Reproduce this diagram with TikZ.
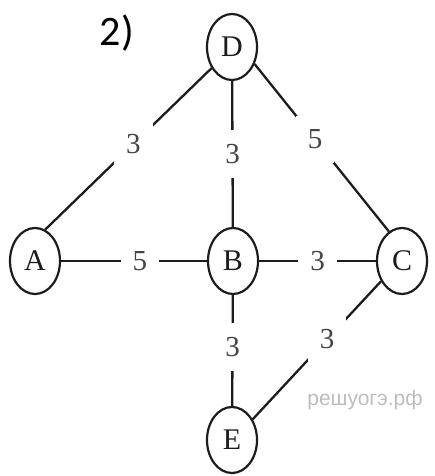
\documentclass[tikz,border=0pt]{standalone}
\usepackage{fontspec}
\setmainfont{Liberation Serif}
\newfontfamily\numfont{Carlito}
\newfontfamily\wmfont{Liberation Sans}
\usetikzlibrary{shapes.geometric}
\definecolor{inkc}{HTML}{1C1C1C}
\definecolor{numc}{HTML}{444444}
\definecolor{wmc}{HTML}{BDBDBD}
\tikzset{
  vert/.style={ellipse, draw=inkc, line width=2.2pt, minimum width=50pt, minimum height=66pt, inner sep=0pt, font=\fontsize{30}{30}\selectfont, text=inkc},
  edgeline/.style={draw=inkc, line width=2.3pt},
  lbl/.style={fill=white, inner xsep=12pt, inner ysep=14pt, text=numc, font=\fontsize{29}{29}\selectfont}
}
\begin{document}
\begin{tikzpicture}[x=1pt,y=-1pt]
\useasboundingbox (0,0) rectangle (434,476);
\node[vert] (D) at (232,47) {D};
\node[vert] (A) at (35,261) {A};
\node[vert] (B) at (233,261) {B};
\node[vert] (C) at (402,261) {C};
\node[vert] (E) at (232,440) {E};
\draw[edgeline] (A.72) -- node[lbl,pos=0.53]{3} (D.226);
\draw[edgeline] (D) -- node[lbl,pos=0.5]{3} (B);
\draw[edgeline] (D.323) -- node[lbl,pos=0.45]{5} (C.114);
\draw[edgeline] (A) -- node[lbl,pos=0.54]{5} (B);
\draw[edgeline] (B) -- node[lbl,pos=0.5]{3} (C);
\draw[edgeline] (B) -- node[lbl,pos=0.47]{3} (E);
\draw[edgeline] (C.224) -- node[lbl,pos=0.42]{3} (E.45);
\node[font=\numfont\fontsize{42}{42}\selectfont, inner sep=0pt] (title) at (117,33) {2)};
\node[font=\wmfont\fontsize{21}{21}\selectfont, text=wmc, inner sep=0pt] (wm) at (365,400) {решуогэ.рф};
\end{tikzpicture}
\end{document}
